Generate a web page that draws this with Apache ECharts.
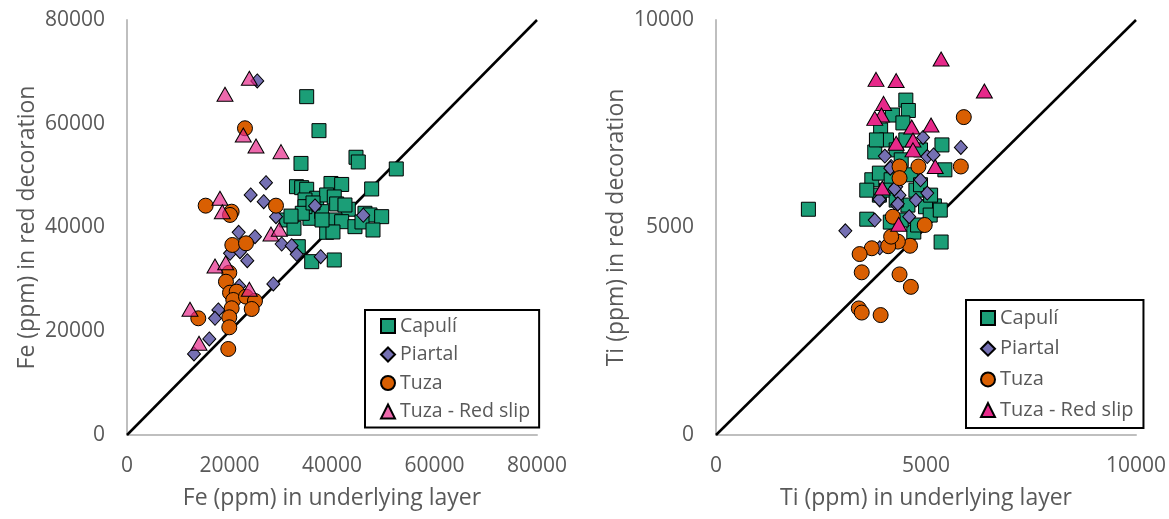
<!DOCTYPE html>
<html><head><meta charset="utf-8">
<script src="https://cdn.jsdelivr.net/npm/echarts@6/dist/echarts.min.js"></script>
<style>html,body{margin:0;padding:0;background:#fff}#c{width:1169px;height:519px}</style>
</head><body><div id="c"></div>
<script>
const seriesNames = ['Capulí', 'Piartal', 'Tuza', 'Tuza - Red slip'];
const feTicks = [0, 20000, 40000, 60000, 80000];
const tiTicks = [0, 5000, 10000];

// Fe: [underlying, red decoration]
const feCapuli = [[35060,65220],[37460,58670],[33950,52350],[44680,53540],[45130,52630],[52540,51290],[47740,47430],[39800,48490],[41890,48300],[33070,47870],[34080,47680],[35060,47370],[37010,45640],[38960,46270],[40440,45890],[40910,44540],[34730,45310],[43180,43520],[46430,42740],[47410,42420],[49690,42090],[31160,41450],[35700,41780],[40580,41450],[41890,41120],[44480,40160],[38960,39080],[33420,36300],[36040,33410],[40440,33740],[37990,43050],[34730,44020],[32580,39850],[34200,42740],[42530,44340],[40190,39140],[32000,42200],[45850,41070],[48000,39520],[36290,44730],[38050,41450]];
const fePiartal = [[25420,68250],[27120,48640],[24130,46270],[26670,44980],[29070,42090],[36680,44150],[46100,42360],[21790,39080],[24970,38230],[20100,35030],[22050,35340],[23470,33600],[30180,36820],[32130,36500],[33110,34840],[37790,34380],[28550,29110],[21910,28730],[17820,24100],[17170,22500],[16060,18510],[13070,15620]];
const feTuza = [[23020,59130],[15350,44210],[29070,44210],[20420,43050],[20100,42420],[20550,36630],[23220,36950],[19960,31290],[19310,29550],[20100,27440],[21400,27630],[20740,26030],[23220,26670],[24970,25840],[20420,24430],[24330,24290],[19960,22690],[19960,20760],[13910,22500],[19760,16580]];
const feRedSlip = [[23870,68770],[19120,65690],[22690,57840],[25170,55720],[30050,54620],[18140,45640],[18600,43050],[28090,38750],[29720,39660],[17170,32580],[19260,33220],[23870,28090],[12290,24230],[14050,17680]];

// Ti: [underlying, red decoration]
const tiCapuli = [[2200,5440],[4520,8070],[4580,7820],[4200,7710],[3920,7350],[4450,7520],[5380,6990],[3780,6820],[3710,6150],[5450,6390],[5200,5520],[3590,5200],[4150,5130],[4710,4890],[5360,4650],[4990,5500],[3890,6310],[4060,7110],[4760,5900],[4570,5540],[3890,5780],[4290,6870],[4410,6630],[4170,6150],[4640,6270],[4870,6030],[5110,5780],[4060,5900],[4290,5660],[4520,7110],[3820,7110],[4870,6870],[5100,5300],[4410,5180],[4800,5060],[3590,5900],[5340,5420]];
const tiPiartal = [[5830,6930],[4930,7170],[4020,6720],[5030,6710],[5180,6750],[4870,6150],[3900,5660],[3780,5180],[3080,4920],[4370,5780],[4760,5660],[5030,5830],[4600,5260],[4290,5980],[4170,6470],[4150,6430],[4250,5930],[3890,5680],[4310,5540],[3900,4510],[4330,5570]];
const tiTuza = [[5900,7660],[5830,6470],[4370,6470],[4820,6470],[4370,6190],[4210,5260],[4970,5060],[4620,4560],[4330,4660],[4100,4550],[4170,4780],[3710,4500],[3420,4360],[3470,3920],[4370,3870],[4640,3570],[3400,3050],[3470,2950],[3920,2890]];
const tiRedSlip = [[5360,9060],[3810,8570],[4290,8540],[6390,8290],[3990,7990],[3940,7710],[3780,7630],[4660,7420],[5120,7470],[4290,7030],[4690,7110],[4690,6870],[5220,6470],[3960,5950],[4350,5080]];

const FONT = 'Open Sans';
const GREY = '#595959';
const styles = {
  'Capulí': {symbol: 'rect', size: 14, color: '#1B9E77'},
  'Piartal': {symbol: 'diamond', size: [13, 14], color: '#7570B3'},
  'Tuza': {symbol: 'circle', size: 15, color: '#D95F02'},
  'Tuza - Red slip': {symbol: 'triangle', size: [16, 14], color: '#E7298A'}
};

function scatter(name, data, idx, color) {
  const s = styles[name];
  return {
    type: 'scatter', name: name, data: data,
    xAxisIndex: idx, yAxisIndex: idx,
    symbol: s.symbol, symbolSize: s.size,
    itemStyle: {color: color || s.color, borderColor: '#000', borderWidth: 1, opacity: 1},
    emphasis: {disabled: true}
  };
}
function diag(idx, max) {
  return {type: 'line', data: [[0,0],[max,max]], xAxisIndex: idx, yAxisIndex: idx,
    symbol: 'none', lineStyle: {color: '#000', width: 2.5}, silent: true, z: 1};
}
const plain = v => String(v);
function xAx(idx, ticks, name) {
  return {type: 'value', gridIndex: idx, min: ticks[0], max: ticks[ticks.length-1],
    interval: ticks[1]-ticks[0], name: name, nameLocation: 'middle', nameGap: 52,
    nameTextStyle: {fontFamily: FONT, fontSize: 23, color: GREY},
    axisLine: {lineStyle: {color: '#BFBFBF', width: 2}}, axisTick: {show: false},
    splitLine: {show: false},
    axisLabel: {fontFamily: FONT, fontSize: 21, color: GREY, margin: 21, formatter: plain}};
}
function yAx(idx, ticks, name) {
  return {type: 'value', gridIndex: idx, min: ticks[0], max: ticks[ticks.length-1],
    interval: ticks[1]-ticks[0], name: name, nameLocation: 'middle', nameGap: 88,
    nameTextStyle: {fontFamily: FONT, fontSize: 23, color: GREY},
    axisLine: {show: true, lineStyle: {color: '#BFBFBF', width: 2}}, axisTick: {show: false},
    splitLine: {show: false},
    axisLabel: {fontFamily: FONT, fontSize: 21, color: GREY, margin: 22, formatter: plain}};
}
function legend(left, top, pad, gap, fs, tri) {
  return {orient: 'vertical', left: left, top: top, padding: pad, itemGap: gap,
    itemWidth: 14, itemHeight: 14, borderColor: '#000', borderWidth: 2, borderRadius: 0,
    selectedMode: false,
    textStyle: {fontFamily: FONT, fontSize: fs, color: GREY, lineHeight: 18},
    data: [seriesNames[0], seriesNames[1], seriesNames[2],
      {name: seriesNames[3], itemStyle: {color: tri, opacity: 1}}]};
}

const chart = echarts.init(document.getElementById('c'), null, {renderer: 'canvas'});
chart.setOption({
  animation: false,
  grid: [
    {left: 127, top: 20, width: 410, height: 415},
    {left: 716, top: 20, width: 429, height: 415}
  ],
  xAxis: [xAx(0, feTicks, 'Fe (ppm) in underlying layer'), xAx(1, tiTicks, 'Ti (ppm) in underlying layer')],
  yAxis: [yAx(0, feTicks, 'Fe (ppm) in red decoration'), yAx(1, tiTicks, 'Ti (ppm) in red decoration')],
  legend: [
    legend(365, 310, [6, 9, 6, 15], 8.5, 19.5, 'rgba(231,41,138,0.7)'),
    legend(966, 300, [8, 10, 8, 14], 10.7, 20, '#E7298A')
  ],
  series: [
    diag(0, 80000), diag(1, 10000),
    scatter(seriesNames[0], feCapuli, 0),
    scatter(seriesNames[1], fePiartal, 0),
    scatter(seriesNames[2], feTuza, 0),
    scatter(seriesNames[3], feRedSlip, 0, 'rgba(231,41,138,0.7)'),
    scatter(seriesNames[0], tiCapuli, 1),
    scatter(seriesNames[1], tiPiartal, 1),
    scatter(seriesNames[2], tiTuza, 1),
    scatter(seriesNames[3], tiRedSlip, 1)
  ]
});
</script></body></html>
